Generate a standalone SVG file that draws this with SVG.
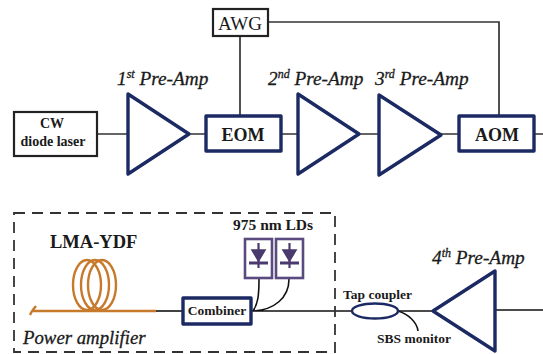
<svg xmlns="http://www.w3.org/2000/svg" width="543" height="354" viewBox="0 0 543 354">
<style>
text{font-family:"Liberation Serif",serif;fill:#1a1a1a}
.b{font-weight:bold}
.i{font-style:italic;font-size:19.3px;stroke:#1a1a1a;stroke-width:.3}
.w{fill:#fff;stroke:#222;stroke-width:2.2}
.n{fill:#fff;stroke:#1c2a63;stroke-width:3.4;stroke-linejoin:round}
.l{fill:none;stroke:#333;stroke-width:1.7}
.k{fill:none;stroke:#111;stroke-width:1.6}
.o{fill:none;stroke:#c87a2c;stroke-width:2.4}
.p{fill:#fff;stroke:#5b4a80;stroke-width:2.6}
.d{fill:#4a3a6e;stroke:#4a3a6e;stroke-width:1.6}
</style>
<rect width="543" height="354" fill="#fff"/>
<g id="connectors">
<path class="l" d="M97 134H128M190 134H206M240 37V116M282 134H298M360 134H379M441 134H459M268 22H499V116M535 134H543"/>
<path class="k" d="M156 311H185"/>
<path class="o" d="M32 311H156M32 311L36 306M32 311L30 315"/>
<path class="k" d="M252 311H432M259 279C259 295 258 304 253 311M289 279C289 298 274 310 253 311"/>
<path class="k" d="M398 311C408 314 417 322 418 331M495 310H543"/>
</g>
<g id="dashed-box"><rect x="14" y="213" width="321" height="139" fill="none" stroke="#333" stroke-width="1.8" stroke-dasharray="11 7"/></g>
<g id="awg"><rect class="w" x="213" y="9" width="55" height="27"/><text x="240" y="30" font-size="19" text-anchor="middle">AWG</text></g>
<g id="cw"><rect class="w" x="14" y="112" width="83" height="44"/><text class="b" x="52" y="128" font-size="14" text-anchor="middle">CW</text><text class="b" x="53" y="146" font-size="14" text-anchor="middle">diode laser</text></g>
<g id="amp1"><polygon class="n" points="128,94 189,134 128,174"/><text class="i" x="117" y="85">1<tspan font-size="12" dy="-7">st</tspan><tspan dy="7"> Pre-Amp</tspan></text></g>
<g id="eom"><rect class="n" x="206" y="116" width="75" height="35"/><text class="b" x="243" y="141" font-size="18" text-anchor="middle">EOM</text></g>
<g id="amp2"><polygon class="n" points="298,94 359,134 298,174"/><text class="i" x="268" y="85">2<tspan font-size="12" dy="-7">nd</tspan><tspan dy="7"> Pre-Amp</tspan></text></g>
<g id="amp3"><polygon class="n" points="379,95 441,135 379,175"/><text class="i" x="375" y="85">3<tspan font-size="12" dy="-7">rd</tspan><tspan dy="7"> Pre-Amp</tspan></text></g>
<g id="aom"><rect class="n" x="459" y="116" width="75" height="35"/><text class="b" x="497" y="141" font-size="18" text-anchor="middle">AOM</text></g>
<g id="ydf">
<text class="b" x="50" y="248" font-size="18.5">LMA-YDF</text>
<ellipse class="o" cx="87" cy="285" rx="14" ry="25"/><ellipse class="o" cx="95" cy="285" rx="14" ry="25"/><ellipse class="o" cx="102" cy="285" rx="14" ry="25"/>
</g>
<g id="combiner"><rect class="n" x="183" y="298" width="68" height="26"/><text class="b" x="217" y="315" font-size="13.5" text-anchor="middle">Combiner</text></g>
<g id="lds">
<text class="b" x="233" y="230" font-size="15.5">975 nm LDs</text>
<rect class="p" x="245" y="239" width="27" height="39"/><rect class="p" x="276" y="239" width="27" height="39"/>
<path class="d" d="M252 250H265L258.5 261ZM283 250H296L289.500 261Z"/>
<path d="M258.500 243V268M289.500 243V268" fill="none" stroke="#4a3a6e" stroke-width="2.2"/>
<path d="M249 263H268M280 263H299" fill="none" stroke="#4a3a6e" stroke-width="3"/>
</g>
<g id="tap"><ellipse cx="375" cy="311" rx="23" ry="7.5" fill="#fff" stroke="#1c2a63" stroke-width="2.4"/><text class="b" x="343" y="299" font-size="13.5">Tap coupler</text><text class="b" x="377" y="343" font-size="13.5">SBS monitor</text></g>
<g id="amp4"><polygon class="n" points="433,311 495,271 495,351"/><text class="i" x="432" y="264">4<tspan font-size="12" dy="-7">th</tspan><tspan dy="7"> Pre-Amp</tspan></text></g>
<text id="pa-label" class="i" x="23" y="344" style="font-size:18.8px">Power amplifier</text>
</svg>
